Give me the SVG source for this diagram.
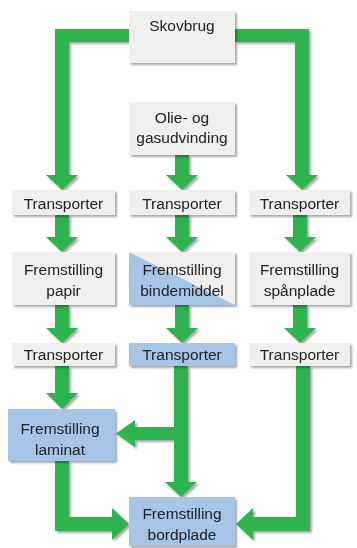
<svg xmlns="http://www.w3.org/2000/svg" width="357" height="548" viewBox="0 0 357 548">
<defs>
<filter id="sh" x="-10%" y="-10%" width="130%" height="130%">
<feGaussianBlur in="SourceAlpha" stdDeviation="1.2"/>
<feOffset dx="2" dy="2" result="b"/>
<feComponentTransfer><feFuncA type="linear" slope="0.35"/></feComponentTransfer>
<feMerge><feMergeNode/><feMergeNode in="SourceGraphic"/></feMerge>
</filter>
<style>
.g{fill:#efefee;}
.b{fill:#a7c5e6;}
.a{fill:#2db44f;}
text{font-family:"Liberation Sans",Arial,sans-serif;font-size:15.5px;fill:#222;text-anchor:middle;}
</style>
</defs>
<rect width="357" height="548" fill="#ffffff"/>
<g id="connectors" filter="url(#sh)">
<polygon class="a" points="129,29 55,29 55,175 46,175 62,190 78,175 69,175 69,42 129,42"/>
<polygon class="a" points="235,29 309,29 309,175 318,175 302,190 286,175 295,175 295,42 235,42"/>
<polygon class="a" points="175,155 189,155 189,175 198,175 182,190 166,175 175,175"/>
<polygon class="a" points="55,215 69,215 69,237 78,237 62,252 46,237 55,237"/>
<polygon class="a" points="175,215 189,215 189,237 198,237 182,252 166,237 175,237"/>
<polygon class="a" points="293,215 307,215 307,237 316,237 300,252 284,237 293,237"/>
<polygon class="a" points="55,305 69,305 69,328 78,328 62,343 46,328 55,328"/>
<polygon class="a" points="175,305 189,305 189,328 198,328 182,343 166,328 175,328"/>
<polygon class="a" points="293,305 307,305 307,328 316,328 300,343 284,328 293,328"/>
<polygon class="a" points="55,366 69,366 69,393 78,393 62,409 46,393 55,393"/>
<polygon class="a" points="174,366 188,366 188,482 197,482 181,497 165,482 174,482 174,440 135,440 135,447 116,433.5 135,420 135,427 174,427"/>
<polygon class="a" points="55,461 69,461 69,517 112,517 112,508 129,524 112,540 112,531 55,531"/>
<polygon class="a" points="296,366 310,366 310,531 253,531 253,540 236,524 253,508 253,517 296,517"/>
</g>
<g id="skovbrug" filter="url(#sh)"><rect class="g" x="129" y="11" width="106" height="52"/><text x="182" y="30.5">Skovbrug</text></g>
<g id="olie" filter="url(#sh)"><rect class="g" x="129" y="102" width="106" height="53"/><text x="182" y="122.5">Olie- og</text><text x="182" y="143">gasudvinding</text></g>
<g id="transporter1a" filter="url(#sh)"><rect class="g" x="12" y="190" width="103" height="25"/><text x="63.5" y="208.5">Transporter</text></g>
<g id="transporter1b" filter="url(#sh)"><rect class="g" x="129" y="190" width="106" height="25"/><text x="182" y="208.5">Transporter</text></g>
<g id="transporter1c" filter="url(#sh)"><rect class="g" x="249" y="190" width="101" height="25"/><text x="299.5" y="208.5">Transporter</text></g>
<g id="papir" filter="url(#sh)"><rect class="g" x="12" y="252" width="103" height="53"/><text x="63.5" y="274.5">Fremstilling</text><text x="63.5" y="295.5">papir</text></g>
<g id="bindemiddel" filter="url(#sh)"><rect class="g" x="129" y="252" width="106" height="53"/><polygon class="b" points="129,252 129,305 235,305"/><text x="182" y="274.5">Fremstilling</text><text x="182" y="295.5">bindemiddel</text></g>
<g id="spanplade" filter="url(#sh)"><rect class="g" x="249" y="252" width="101" height="53"/><text x="299.5" y="274.5">Fremstilling</text><text x="299.5" y="295.5">spånplade</text></g>
<g id="transporter2a" filter="url(#sh)"><rect class="g" x="12" y="343" width="103" height="23"/><text x="63.5" y="359.5">Transporter</text></g>
<g id="transporter2b" filter="url(#sh)"><rect class="b" x="129" y="343" width="106" height="23"/><text x="182" y="359.5">Transporter</text></g>
<g id="transporter2c" filter="url(#sh)"><rect class="g" x="249" y="343" width="101" height="23"/><text x="299.5" y="359.5">Transporter</text></g>
<g id="laminat" filter="url(#sh)"><rect class="b" x="8" y="409" width="107" height="52"/><text x="60" y="433.5">Fremstilling</text><text x="60" y="454.5">laminat</text></g>
<g id="bordplade" filter="url(#sh)"><rect class="b" x="129" y="497" width="106" height="49"/><text x="182" y="518.5">Fremstilling</text><text x="182" y="539.5">bordplade</text></g>
</svg>
